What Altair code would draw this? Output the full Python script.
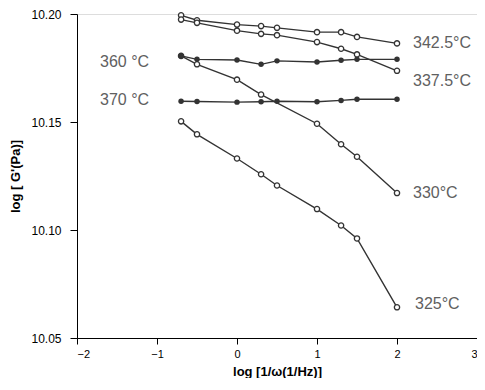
import altair as alt
import pandas as pd

# ---- data ----
x_main = [-0.699, -0.5, 0.0, 0.301, 0.5, 1.0, 1.301, 1.5, 2.0]
x_330 = [-0.699, -0.5, 0.0, 0.301, 1.0, 1.301, 1.5, 2.0]

y_3425 = [10.1994, 10.1971, 10.1951, 10.1944, 10.1936, 10.1916, 10.1916, 10.1894, 10.1864]
y_3375 = [10.1974, 10.1959, 10.1923, 10.1908, 10.1902, 10.1870, 10.1839, 10.1813, 10.1737]
y_360 = [10.1806, 10.1790, 10.1787, 10.1767, 10.1783, 10.1778, 10.1786, 10.1790, 10.1790]
y_370 = [10.1596, 10.1595, 10.1592, 10.1594, 10.1596, 10.1594, 10.1600, 10.1605, 10.1605]
y_330 = [10.1806, 10.1767, 10.1696, 10.1627, 10.1492, 10.1397, 10.1339, 10.1171]
y_325 = [10.1503, 10.1443, 10.1331, 10.1258, 10.1206, 10.1097, 10.1021, 10.0961, 10.0642]

series_names = ["342.5°C", "337.5°C", "360 °C", "370 °C", "330°C", "325°C"]
series_x = [x_main, x_main, x_main, x_main, x_330, x_main]
series_y = [y_3425, y_3375, y_360, y_370, y_330, y_325]
series_filled = [False, False, True, True, False, False]

x_ticks = [-2, -1, 0, 1, 2, 3]
y_ticks = [10.05, 10.10, 10.15, 10.20]

rows = []
for name, xs, ys, f in zip(series_names, series_x, series_y, series_filled):
    for xv, yv in zip(xs, ys):
        rows.append({"series": name, "x": xv, "y": yv, "filled": f})
df = pd.DataFrame(rows)

# label placement style: (end of series, dx, dy, align)
label_style = {
    "342.5°C": ("last", 16, 0, "left"),
    "337.5°C": ("last", 16, 10, "left"),
    "330°C": ("last", 16, 0, "left"),
    "325°C": ("last", 18, -3, "left"),
    "360 °C": ("first", -32, 6, "right"),
    "370 °C": ("first", -32, -1, "right"),
}

FONT = "Liberation Sans"
LINE = "#333333"

xscale = alt.Scale(domain=[-2, 3], nice=False, zero=False)
yscale = alt.Scale(domain=[10.05, 10.20], nice=False, zero=False)

xenc = alt.X("x:Q", scale=xscale, axis=alt.Axis(
    values=x_ticks, format="d", title="log [1/ω(1/Hz)]", grid=False,
    tickSize=6, labelPadding=4, titlePadding=6, labelFontSize=11,
    titleFontSize=13, titleFontWeight="bold", labelColor="black",
    titleColor="black", domainColor="black", tickColor="black",
    labelFont=FONT, titleFont=FONT))
yenc = alt.Y("y:Q", scale=yscale, axis=alt.Axis(
    values=y_ticks, format=".2f", title="log [ G'(Pa)]", grid=False,
    tickSize=7, labelPadding=9, titlePadding=8, labelFontSize=12,
    titleFontSize=13, titleFontWeight="bold", labelColor="black",
    titleColor="black", domainColor="black", tickColor="black",
    labelFont=FONT, titleFont=FONT))

base = alt.Chart(df)

lines = base.mark_line(color=LINE, strokeWidth=1.4).encode(
    x=xenc, y=yenc, detail="series:N", order="x:Q")

open_pts = base.transform_filter(alt.datum.filled == False).mark_point(
    shape="circle", filled=True, fill="white", stroke=LINE,
    strokeWidth=1.3, size=28, opacity=1).encode(x="x:Q", y="y:Q")

filled_pts = base.transform_filter(alt.datum.filled == True).mark_circle(
    color=LINE, size=30, opacity=1).encode(x="x:Q", y="y:Q")

layers = [lines, open_pts, filled_pts]
for name, (end, dx, dy, align) in label_style.items():
    sub = df[df.series == name]
    row = sub.iloc[-1] if end == "last" else sub.iloc[0]
    ldf = pd.DataFrame([{"x": row.x, "y": row.y, "label": name}])
    layers.append(
        alt.Chart(ldf).mark_text(
            dx=dx, dy=dy, align=align, baseline="middle", font=FONT,
            fontSize=16, color="#606060").encode(x="x:Q", y="y:Q", text="label:N"))

chart = alt.layer(*layers).properties(
    width=400, height=324,
    padding={"left": 69, "top": 6, "right": 0, "bottom": 40},
    autosize=alt.AutoSizeParams(type="none"),
).configure_view(stroke="black", strokeWidth=1.2).configure(background="white")

chart.save("out.html", embed_options={"renderer": "svg", "actions": False})
